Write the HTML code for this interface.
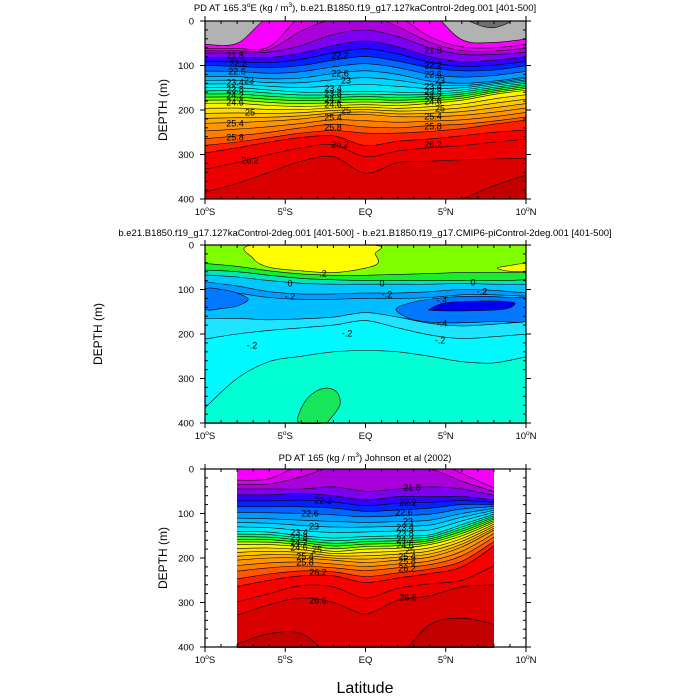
<!DOCTYPE html>
<html><head><meta charset="utf-8"><style>
html,body{margin:0;padding:0;background:#fff;overflow:hidden;width:700px;height:700px;}
svg{display:block;font-family:"Liberation Sans",sans-serif;overflow:hidden;}
</style></head><body>
<svg id="chart" width="700" height="700" viewBox="0 0 700 700">
<defs>
<clipPath id="clip1"><rect x="205" y="21" width="321" height="178"/></clipPath>
<clipPath id="clip2"><rect x="205" y="245" width="321" height="179"/></clipPath>
<clipPath id="clip3"><rect x="237" y="469" width="257" height="179"/></clipPath>
</defs>
<g id="p1"></g>
<g id="p2"></g>
<g id="p3"></g>
<text x="365" y="11" font-size="9.5" text-anchor="middle">PD AT 165.3<tspan font-size="6.5" dy="-4">o</tspan><tspan dy="4">E (kg / m</tspan><tspan font-size="6.5" dy="-4">3</tspan><tspan dy="4">), b.e21.B1850.f19_g17.127kaControl-2deg.001 [401-500]</tspan></text>
<text x="365" y="236" font-size="9.5" text-anchor="middle">b.e21.B1850.f19_g17.127kaControl-2deg.001 [401-500] - b.e21.B1850.f19_g17.CMIP6-piControl-2deg.001 [401-500]</text>
<text x="365" y="461" font-size="9.5" text-anchor="middle">PD AT 165 (kg / m<tspan font-size="6.5" dy="-4">3</tspan><tspan dy="4">) Johnson et al (2002)</tspan></text>
<text transform="translate(167,110) rotate(-90)" font-size="12" text-anchor="middle">DEPTH (m)</text>
<text transform="translate(102,334) rotate(-90)" font-size="12" text-anchor="middle">DEPTH (m)</text>
<text transform="translate(167,558) rotate(-90)" font-size="12" text-anchor="middle">DEPTH (m)</text>
<text x="365" y="693" font-size="16" text-anchor="middle">Latitude</text>
</svg>
<script>
// ---------- data ----------
const lats1 = [-10,-8,-6,-4,-2,0,2,4,6,8,10];
const keyLevels1 = [21.2,21.4,21.6,22.0,22.2,22.6,23.0,23.6,24.6,25.4,25.8,26.0,26.2,26.4,26.6,26.8];
const depths1 = [
 [-60,-60,-60,-60,-60,-60,-60,-60,-5,15,-30],
 [52,50,-10,-40,-60,-60,-60,-30,42,48,40],
 [62,62,58,-10,-40,-50,-10,35,58,60,52],
 [72,72,70,55,30,20,35,60,75,75,70],
 [82,82,82,72,55,45,58,80,92,88,80],
 [100,102,105,100,88,80,90,105,112,110,100],
 [125,125,130,128,118,112,120,135,140,135,125],
 [150,150,155,160,160,158,160,160,155,145,135],
 [185,185,190,192,190,188,190,185,178,165,155],
 [230,228,225,220,212,210,215,215,212,205,195],
 [265,258,250,240,232,238,240,235,232,225,215],
 [280,272,262,252,246,252,252,248,242,232,222],
 [297,285,272,262,258,280,270,265,258,250,245],
 [334,318,300,285,278,305,292,285,280,272,265],
 [386,365,340,315,305,342,318,315,312,310,308],
 [600,560,520,500,500,500,480,450,400,370,345]
];
const lats3 = [-8,-6,-4,-2,0,2,4,6,8];
const keyLevels3 = [21.6,22.0,22.2,22.6,23.0,23.6,24.6,25.4,25.8,26.2,26.4,26.6,26.8];
const depths3 = [
 [25,22,-10,-50,-70,-50,-40,10,45],
 [45,45,45,40,50,45,40,45,60],
 [58,58,55,60,70,62,62,62,70],
 [85,85,85,88,95,92,88,80,80],
 [110,112,115,118,120,118,115,100,88],
 [140,142,150,155,152,150,148,125,100],
 [170,170,175,185,180,178,170,150,118],
 [205,200,200,205,210,205,198,175,135],
 [230,222,218,222,228,222,215,195,150],
 [265,250,240,240,255,245,235,220,170],
 [300,280,262,265,290,268,258,250,215],
 [330,305,290,300,325,295,285,265,260],
 [395,370,370,420,450,420,350,335,350]
];
const lats2 = [-10,-8,-6,-4,-2,0,2,4,6,8,10];
const diffLineA = [41,48,58,65,68,68,66,64,62,62,62];
const diffLineB = [56,60,68,75,78,80,80,80,80,80,78];
const diffLineC = [67,72,80,86,88,88,88,88,86,88,88];
const diffLineD = [82,92,105,110,110,108,108,105,100,102,108];
const diffLineE = [100,108,118,122,122,120,120,118,112,112,115];
const diffLineF1 = [165,165,168,166,162,152,162,176,182,178,172];
const diffLineF2 = [212,200,192,186,180,170,186,202,210,206,200];
const diffLineG = [370,300,262,250,240,237,240,250,262,265,250];
const blobYellowLat = [-7.0,-7.0,-6,-4,-2,0,0.8,0.6,0.4];
const blobYellowDep = [0,30,50,58,62,52,40,20,0];
const blobYellow2Lat = [8.2,9,10,10,9];
const blobYellow2Dep = [52,46,42,58,59];
const blobLeftLat = [-10,-9,-8,-7.3,-8,-9,-10];
const blobLeftDep = [100,100,108,122,137,143,143];
const blobRightLat = [1.9,3,5,7,9,10,10,8,5,3];
const blobRightDep = [145,128,118,115,118,122,170,172,175,168];
const blobDeepLat = [4,5,7,8.8,9.3,8.5,6,4.2];
const blobDeepDep = [144,130,126,127,133,145,148,147];
const blobGreenLat = [-4.1,-4.1,-3.5,-2.6,-1.8,-1.6,-2.3,-2.5];
const blobGreenDep = [400,375,340,322,330,360,395,400];
const xTickLabels = ["10°S","5°S","EQ","5°N","10°N"];
const xTickValues = [-10,-5,0,5,10];
const yTickValues = [0,100,200,300,400];

// ---------- helpers ----------
const NS = "http://www.w3.org/2000/svg";
const X0 = 205, XW = 321;
function xs(lat){ return X0 + (lat + 10) / 20 * XW; }
function ysF(top){ return d => top + Math.max(-20, Math.min(420, d)) / 400 * 178; }
function mk(tag, attrs, parent){ const e = document.createElementNS(NS, tag); for (const k in attrs) e.setAttribute(k, attrs[k]); if (parent) parent.appendChild(e); return e; }
function smooth(pts){
  let d = "M" + pts[0][0].toFixed(1) + "," + pts[0][1].toFixed(1);
  for (let i = 0; i < pts.length - 1; i++){
    const p0 = pts[Math.max(0,i-1)], p1 = pts[i], p2 = pts[i+1], p3 = pts[Math.min(pts.length-1,i+2)];
    const c1 = [p1[0] + (p2[0]-p0[0])/6, p1[1] + (p2[1]-p0[1])/6];
    const c2 = [p2[0] - (p3[0]-p1[0])/6, p2[1] - (p3[1]-p1[1])/6];
    d += "C" + c1[0].toFixed(1)+","+c1[1].toFixed(1)+" "+c2[0].toFixed(1)+","+c2[1].toFixed(1)+" "+p2[0].toFixed(1)+","+p2[1].toFixed(1);
  }
  return d;
}
function closedSmooth(pts){
  const n = pts.length; let d = "M" + pts[0][0].toFixed(1) + "," + pts[0][1].toFixed(1);
  for (let i = 0; i < n; i++){
    const p0 = pts[(i-1+n)%n], p1 = pts[i], p2 = pts[(i+1)%n], p3 = pts[(i+2)%n];
    const c1 = [p1[0] + (p2[0]-p0[0])/6, p1[1] + (p2[1]-p0[1])/6];
    const c2 = [p2[0] - (p3[0]-p1[0])/6, p2[1] - (p3[1]-p1[1])/6];
    d += "C" + c1[0].toFixed(1)+","+c1[1].toFixed(1)+" "+c2[0].toFixed(1)+","+c2[1].toFixed(1)+" "+p2[0].toFixed(1)+","+p2[1].toFixed(1);
  }
  return d + "Z";
}
const stops = [[21.4,[255,0,255]],[21.6,[240,0,250]],[21.8,[190,0,215]],[22.0,[150,0,225]],[22.2,[100,0,255]],[22.4,[0,0,255]],[22.6,[0,70,255]],[22.8,[0,130,255]],[23.0,[0,175,255]],[23.4,[0,225,255]],[23.8,[0,255,200]],[24.0,[0,245,70]],[24.3,[100,255,0]],[24.6,[255,255,0]],[25.0,[255,210,0]],[25.4,[255,160,0]],[25.8,[255,115,0]],[26.0,[255,60,0]],[26.2,[255,0,0]],[26.6,[230,0,0]],[26.9,[195,0,0]]];
function rhoColor(v){
  if (v < 21.2) return "#6e6e6e";
  if (v < 21.4) return "#b2b2b2";
  if (v <= stops[0][0]) return "rgb(255,0,255)";
  for (let i = 0; i < stops.length-1; i++){
    if (v <= stops[i+1][0]){
      const t = (v - stops[i][0]) / (stops[i+1][0] - stops[i][0]);
      const c = stops[i][1].map((a,j)=>Math.round(a + (stops[i+1][1][j]-a)*t));
      return "rgb("+c.join(",")+")";
    }
  }
  return "rgb(195,0,0)";
}
function levelDepths(v, keys, deps){
  for (let i = 0; i < keys.length-1; i++){
    if (v >= keys[i]-1e-9 && v <= keys[i+1]+1e-9){
      const t = (v - keys[i]) / (keys[i+1] - keys[i]);
      return deps[i].map((d,j)=>d + (deps[i+1][j]-d)*t);
    }
  }
  return null;
}

function axes(g, top){
  const ys = ysF(top);
  mk("rect",{x:205,y:top,width:321,height:178,fill:"none",stroke:"#000","stroke-width":1.2},g);
  for (let lat = -10; lat <= 10; lat++){
    const x = xs(lat), major = lat % 5 === 0;
    const t1 = mk("line",{x1:x,x2:x,y1:top+178,y2:top+178+(major?5:-3),stroke:"#000","stroke-width":1},g);
    
    
    mk("line",{x1:x,x2:x,y1:top,y2:top+(major?-5:3),stroke:"#000","stroke-width":1},g);
  }
  for (let d = 0; d <= 400; d += 20){
    const y = ys(d), major = d % 100 === 0;
    const t2 = mk("line",{x1:205-(major?5:0),x2:205+(major?0:3),y1:y,y2:y,stroke:"#000","stroke-width":1},g);
    
    
    mk("line",{x1:526+(major?5:0),x2:526-(major?0:3),y1:y,y2:y,stroke:"#000","stroke-width":1},g);
  }
  yTickValues.forEach(v=>{
    const t = mk("text",{x:194,y:ys(v)+3.5,"font-size":9.5,"text-anchor":"end"},g);
    
    
    t.textContent = v;
  });
  xTickValues.forEach((v,i)=>{
    const lab = xTickLabels[i];
    const t = mk("text",{x:xs(v),y:top+194,"font-size":9.5,"text-anchor":"middle"},g);
    
    
    if (lab.indexOf("°") >= 0){
      const parts = lab.split("°");
      t.appendChild(document.createTextNode(parts[0]));
      const s = mk("tspan",{"font-size":6.5,dy:-4},t); s.textContent = "o";
      const s2 = mk("tspan",{dy:4},t); s2.textContent = parts[1];
    } else t.textContent = lab;
  });
}

function densityPanel(gid, clipId, top, lats, keys, deps, xl, xr, labels){
  const g = document.getElementById(gid), ys = ysF(top);
  const body = mk("g",{"clip-path":"url(#"+clipId+")"},g);
  const bg = mk("rect",{x:xl,y:top,width:xr-xl,height:178,fill:rhoColor(keys[0]-0.05)},body);
  
  
  const step = 0.2;
  const start = keys[0], end = keys[keys.length-1];
  const nLev = Math.round((end - start)/step);
  const lines = [];
  const bottom = top + 182;
  for (let k = 0; k <= nLev; k++){
    const v = +(start + k*step).toFixed(2);
    const dd = levelDepths(v, keys, deps);
    if (!dd) continue;
    const pts = lats.map((lat,j)=>[xs(lat), ys(dd[j])]);
    pts[0][0] = xs(lats[0]) - 2; pts[pts.length-1][0] = xs(lats[lats.length-1]) + 2;
    const line = smooth(pts);
    const band = mk("path",{d: line + "L"+(xr+3)+","+bottom+"L"+(xl-3)+","+bottom+"Z", fill: rhoColor(v + step/2)},body);
    
    
    lines.push(line);
  }
  lines.forEach(l=>{
    const c = mk("path",{d:l,fill:"none",stroke:"#000","stroke-width":0.6},body);
    
    
  });
  labels.forEach(L=>{
    const t = mk("text",{x:L[1],y:L[2]+3.5,"font-size":9,"text-anchor":"middle"},g);
    
    
    t.textContent = L[0];
  });
  axes(g, top);
}

densityPanel("p1","clip1",21,lats1,keyLevels1,depths1,205,526,[
 ["21.8",235,55],["22.2",238,63],["22.6",237,71],["23",249,80],["23.4",235,82],["23.8",235,89],["24.2",235,95],["24.6",235,102],["25",250,112],["25.4",235,123],["25.8",235,137],["26.2",250,160],
 ["22.2",340,55],["22.6",340,73],["23",346,80],["23.4",333,88],["23.8",333,93],["24.2",333,99],["24.6",333,104],["25",346,110],["25.4",333,117],["25.8",333,127],["26.2",340,144],
 ["21.8",433,50],["22.2",433,65],["22.6",433,74],["23",440,80],["23.4",433,86],["23.8",433,91],["24.2",433,96],["24.6",433,101],["25",440,108],["25.4",433,116],["25.8",433,126],["26.2",433,144]
]);

densityPanel("p3","clip3",469,lats3,keyLevels3,depths3,237,494,[
 ["21.8",412,487],["22.2",323,500],["22.2",408,502],["22.6",310,513],["22.6",404,512],["23",314,526],["23",408,521],
 ["23.4",299,532],["23.8",299,537],["24.2",299,542],["24.6",299,547],["25",317,549],["25.4",305,556],["25.8",305,562],["26.2",318,572],["26.6",318,600],
 ["23.4",405,527],["23.8",405,533],["24.2",405,539],["24.6",405,545],["25",410,550],["25.4",407,556],["25.8",407,561],["26.2",407,568],["26.6",408,597]
]);

// ---------- difference panel ----------
(function(){
  const top = 245, ys = ysF(top);
  const g = document.getElementById("p2");
  const body = mk("g",{"clip-path":"url(#clip2)"},g);
  const bg = mk("rect",{x:205,y:top,width:321,height:179,fill:"#00ffd2"},body);
  
  
  const layers = [
    [diffLineG,"#00f8ff","diff-contour-g"],
    [diffLineF2,"#1ee4ff","diff-contour-f2"],
    [diffLineF1,"#00beff","diff-contour-f1"],
    [diffLineE,"#009cff","diff-contour-e"],
    [diffLineD,"#00c8ff","diff-contour-d"],
    [diffLineC,"#00e6b4","diff-contour-c"],
    [diffLineB,"#18ee30","diff-contour-b"],
    [diffLineA,"#80ff00","diff-contour-a"]
  ];
  const linePaths = [];
  layers.forEach(L=>{
    const pts = lats2.map((lat,j)=>[xs(lat), ys(L[0][j])]);
    pts[0][0] -= 2; pts[pts.length-1][0] += 2;
    const line = smooth(pts);
    const p = mk("path",{d: line + "L528,"+(top-5)+"L203,"+(top-5)+"Z", fill:L[1]},body);
    
    
    linePaths.push([line,L[2]]);
  });
  linePaths.forEach(l=>{
    const c = mk("path",{d:l[0],fill:"none",stroke:"#000","stroke-width":0.6},body);
    
    
  });
  const blobs = [
    [blobYellowLat,blobYellowDep,"#ffff00","positive-anomaly-blob"],
    [blobYellow2Lat,blobYellow2Dep,"#ffff00","small-positive-anomaly-blob"],
    [blobLeftLat,blobLeftDep,"#0078ff","west-negative-anomaly-blob"],
    [blobRightLat,blobRightDep,"#0078ff","east-negative-anomaly-blob"],
    [blobDeepLat,blobDeepDep,"#0000ee","strong-negative-anomaly-core"],
    [blobGreenLat,blobGreenDep,"#18e65a","deep-positive-anomaly-blob"]
  ];
  blobs.forEach(B=>{
    const pts = B[0].map((lat,j)=>[xs(lat), ys(B[1][j])]);
    const b = mk("path",{d:closedSmooth(pts),fill:B[2],stroke:"#000","stroke-width":0.6},body);
    
    
  });
  [[".2",323,273],["0",290,283],["0",382,283],["0",473,282],["-.2",290,296],["-.2",387,294],["-.2",482,291],["-.4",442,300],["-.4",442,323],["-.2",347,333],["-.2",252,345],["-.2",440,340]].forEach(L=>{
    const t = mk("text",{x:L[1],y:L[2]+3.5,"font-size":9,"text-anchor":"middle"},g);
    
    
    t.textContent = L[0];
  });
  axes(g, top);
})();
</script>
</body></html>
